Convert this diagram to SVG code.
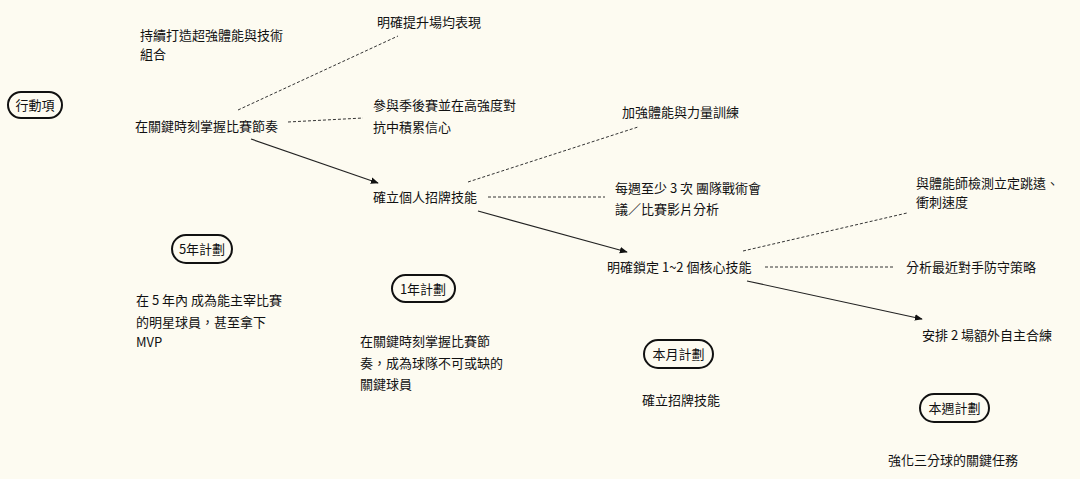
<svg xmlns="http://www.w3.org/2000/svg" width="1080" height="479" viewBox="0 0 1080 479">
<style>
text{font-family:"Noto Sans CJK TC","Noto Sans",sans-serif;font-size:13px;fill:#111}
.pill{fill:none;stroke:#111;stroke-width:2}
.pt{font-size:13px;text-anchor:middle}
.dash{stroke:#333;stroke-width:1;stroke-dasharray:3 2;fill:none}
.solid{stroke:#222;stroke-width:1.2;fill:none;marker-end:url(#ah)}
</style>
<defs>
<marker id="ah" viewBox="0 0 10 10" refX="9" refY="5" markerWidth="8" markerHeight="8" markerUnits="userSpaceOnUse" orient="auto">
<path d="M0,1 L10,5 L0,9 Z" fill="#111"/>
</marker>
</defs>
<rect width="1080" height="479" fill="#fdfbf1"/>
<g id="connectors">
<line class="dash" x1="238" y1="110" x2="398" y2="36"/>
<line class="dash" x1="288" y1="122" x2="363" y2="118"/>
<line class="solid" x1="251" y1="139" x2="378" y2="183"/>
<line class="dash" x1="468" y1="182" x2="638" y2="127"/>
<line class="dash" x1="488" y1="197" x2="605" y2="197"/>
<line class="solid" x1="478" y1="211" x2="627" y2="252"/>
<line class="dash" x1="743" y1="251" x2="907" y2="213"/>
<line class="dash" x1="765" y1="267" x2="895" y2="267"/>
<line class="solid" x1="747" y1="281" x2="922" y2="319"/>
</g>
<g id="action-label">
<rect class="pill" x="8" y="92" width="54" height="26" rx="13"/>
<text class="pt" x="35" y="110">行動項</text>
</g>
<g id="n-physique">
<text x="140" y="40">持續打造超強體能與技術</text>
<text x="140" y="59">組合</text>
</g>
<g id="n-rhythm">
<text x="135" y="131">在關鍵時刻掌握比賽節奏</text>
</g>
<g id="n-avg">
<text x="377" y="27">明確提升場均表現</text>
</g>
<g id="n-playoff">
<text x="373" y="110">參與季後賽並在高強度對</text>
<text x="373" y="132">抗中積累信心</text>
</g>
<g id="n-signature">
<text x="373" y="202">確立個人招牌技能</text>
</g>
<g id="n-strength">
<text x="622" y="117">加強體能與力量訓練</text>
</g>
<g id="n-meeting">
<text x="615" y="193">每週至少 3 次 團隊戰術會</text>
<text x="615" y="214">議／比賽影片分析</text>
</g>
<g id="n-core">
<text x="607" y="272">明確鎖定 1~2 個核心技能</text>
</g>
<g id="n-test">
<text x="916" y="188">與體能師檢測立定跳遠、</text>
<text x="916" y="207">衝刺速度</text>
</g>
<g id="n-opponent">
<text x="906" y="272">分析最近對手防守策略</text>
</g>
<g id="n-extra">
<text x="922" y="340">安排 2 場額外自主合練</text>
</g>
<g id="plan-5y">
<rect class="pill" x="172" y="235" width="60" height="28" rx="14"/>
<text class="pt" x="202" y="254">5年計劃</text>
<text x="136" y="305">在 5 年內 成為能主宰比賽</text>
<text x="136" y="327">的明星球員，甚至拿下</text>
<text x="136" y="347">MVP</text>
</g>
<g id="plan-1y">
<rect class="pill" x="392" y="275" width="63" height="27" rx="13.5"/>
<text class="pt" x="423" y="294">1年計劃</text>
<text x="360" y="346">在關鍵時刻掌握比賽節</text>
<text x="360" y="368">奏，成為球隊不可或缺的</text>
<text x="360" y="389">關鍵球員</text>
</g>
<g id="plan-month">
<rect class="pill" x="644" y="340" width="69" height="28" rx="14"/>
<text class="pt" x="678.5" y="359">本月計劃</text>
<text x="642" y="405">確立招牌技能</text>
</g>
<g id="plan-week">
<rect class="pill" x="920" y="394" width="69" height="28" rx="14"/>
<text class="pt" x="954.5" y="413">本週計劃</text>
<text x="888" y="465">強化三分球的關鍵任務</text>
</g>
</svg>
